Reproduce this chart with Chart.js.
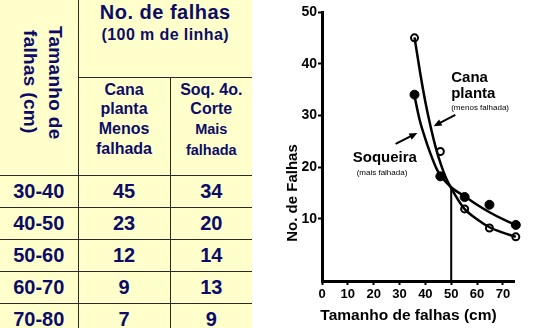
<!DOCTYPE html>
<html>
<head>
<meta charset="utf-8">
<script src="https://cdn.jsdelivr.net/npm/chart.js@4/dist/chart.umd.min.js"></script>
<style>
  body { margin: 0; width: 553px; height: 328px; overflow: hidden; background: #fff; font-family: "Liberation Sans", Arial, sans-serif; }
  #tabela { position: absolute; left: 0; top: 0; width: 252px; border-collapse: collapse; table-layout: fixed; background: #ffffcc; color: #0c0c68; font-weight: bold; }
  #tabela td { border: 1px solid #2a2a2a; padding: 0; text-align: center; }
  #tabela tr:first-child td { border-top: none; }
  #tabela td:first-child { border-left: none; }
  #tabela td:last-child { border-right: none; }
  .rot div { writing-mode: vertical-rl; display: inline-block; font-size: 19px; line-height: 25px; text-align: center; margin-left: 8px; margin-bottom: 6px; letter-spacing: 0.3px; }
  .titulo { vertical-align: top; }
  .titulo .t1 { font-size: 20px; line-height: 23px; margin-top: 1px; letter-spacing: 0.5px; }
  .titulo .t2 { font-size: 16px; line-height: 22px; letter-spacing: 0.4px; }
  .sub { vertical-align: top; font-size: 16px; line-height: 19.7px; padding-top: 2px !important; }
  .sub .menor { font-size: 14.5px; }
  .dado td { font-size: 20px; height: 31px; }
  #grafico { position: absolute; left: 252px; top: 0; }
</style>
</head>
<body>
<table id="tabela">
  <colgroup><col style="width:78px"><col style="width:92px"><col style="width:82px"></colgroup>
  <tr style="height:77px">
    <td rowspan="2" class="rot"><div>Tamanho de<br>falhas (cm)</div></td>
    <td colspan="2" class="titulo"><div class="t1">No. de falhas</div><div class="t2">(100 m de linha)</div></td>
  </tr>
  <tr style="height:98px">
    <td class="sub">Cana<br>planta<br>Menos<br>falhada</td>
    <td class="sub">Soq. 4o.<br>Corte<br><span class="menor">Mais<br>falhada</span></td>
  </tr>
</table>
<canvas id="grafico" width="301" height="328"></canvas>
<script>
// Tabela
const faixas = ['30-40', '40-50', '50-60', '60-70', '70-80']
const tabCana = [45, 23, 12, 9, 7]
const tabSoqueira = [34, 20, 14, 13, 9]

// Grafico: pontos observados
const xPontos = [35.8, 45.8, 55.2, 64.8, 75]
const canaPontos = [45, 23, 11.9, 8.2, 6.5]
const soqPontos = [34, 18.2, 14.2, 12.7, 8.8]

// curvas ajustadas
const curvaCanaX = [35.8, 38, 40, 42, 44, 46, 48, 50, 54.8, 60, 65, 70, 75]
const curvaCanaY = [45.1, 38.2, 32.6, 27.9, 23.8, 20.5, 17.9, 15.9, 12.1, 9.9, 8.3, 7.3, 6.5]
const curvaSoqX = [35.7, 37.8, 39.7, 41.9, 44.5, 46.2, 50, 55.6, 60, 65, 70, 75]
const curvaSoqY = [34, 29.1, 25.9, 22.7, 19.5, 18.1, 16.1, 14.2, 12.7, 11.2, 9.9, 8.8]

const ticksX = [0, 10, 20, 30, 40, 50, 60, 70]
const ticksY = [10, 20, 30, 40, 50]

const tabela = document.getElementById('tabela')
faixas.forEach((faixa, i) => {
    const tr = document.createElement('tr')
    tr.classList.add('dado')
    ;[faixa, tabCana[i], tabSoqueira[i]].forEach(v => {
        const td = document.createElement('td')
        td.textContent = v
        tr.appendChild(td)
    })
    tabela.appendChild(tr)
})

const fonte = '"Liberation Sans", Arial, sans-serif'
const pares = (xs, ys) => xs.map((x, i) => ({x: x, y: ys[i]}))

function seta(ctx, x0, y0, x1, y1) {
    const ang = Math.atan2(y1 - y0, x1 - x0)
    ctx.lineWidth = 2
    ctx.beginPath()
    ctx.moveTo(x0, y0)
    ctx.lineTo(x1 - 5 * Math.cos(ang), y1 - 5 * Math.sin(ang))
    ctx.stroke()
    ctx.beginPath()
    ctx.moveTo(x1, y1)
    ctx.lineTo(x1 - 8 * Math.cos(ang) + 3.5 * Math.sin(ang), y1 - 8 * Math.sin(ang) - 3.5 * Math.cos(ang))
    ctx.lineTo(x1 - 8 * Math.cos(ang) - 3.5 * Math.sin(ang), y1 - 8 * Math.sin(ang) + 3.5 * Math.cos(ang))
    ctx.closePath()
    ctx.fill()
}

const anotacoes = {
    id: 'anotacoes',
    afterDraw(chart) {
        const {ctx, scales: {x, y}} = chart
        const px = v => x.getPixelForValue(v)
        const py = v => y.getPixelForValue(v)
        ctx.save()
        ctx.fillStyle = '#000'
        ctx.strokeStyle = '#000'

        // titulos dos eixos
        ctx.font = 'bold 15.5px ' + fonte
        ctx.textAlign = 'center'
        ctx.textBaseline = 'middle'
        ctx.fillText('Tamanho de falhas (cm)', 156.5, 316)
        ctx.save()
        ctx.translate(41, 193)
        ctx.rotate(-Math.PI / 2)
        ctx.font = 'bold 15px ' + fonte
        ctx.fillText('No. de Falhas', 0, 0)
        ctx.restore()

        // legendas das curvas
        ctx.textAlign = 'left'
        ctx.textBaseline = 'alphabetic'
        ctx.font = 'bold 15px ' + fonte
        ctx.fillText('Cana', px(50), py(36.5))
        ctx.fillText('planta', px(50), py(33.4))
        ctx.fillText('Soqueira', px(11.9), py(20.9))
        ctx.font = '8px ' + fonte
        ctx.fillText('(menos falhada)', px(50), py(31.1))
        ctx.fillText('(mais falhada)', px(13.4), py(18.5))

        seta(ctx, px(51.6), py(30.1), px(43.2), py(27.9))
        seta(ctx, px(28.5), py(24.5), px(36.9), py(26.6))
        ctx.restore()
    }
}

const ctx = document.getElementById('grafico')
const chart = new Chart(ctx, {
    type: 'scatter',
    data: {
        datasets: [
            {
                data: pares(curvaCanaX, curvaCanaY),
                showLine: true, borderColor: '#000', borderWidth: 2.5,
                cubicInterpolationMode: 'monotone', pointRadius: 0, clip: false
            },
            {
                data: pares(curvaSoqX, curvaSoqY),
                showLine: true, borderColor: '#000', borderWidth: 2.5,
                cubicInterpolationMode: 'monotone', pointRadius: 0, clip: false
            },
            {
                data: [{x: 50, y: -2.05}, {x: 50, y: 16}],
                showLine: true, borderColor: '#000', borderWidth: 2, pointRadius: 0
            },
            {
                data: pares(xPontos, canaPontos),
                pointRadius: 3.5, pointBorderWidth: 2,
                pointBackgroundColor: '#fff', pointBorderColor: '#000', clip: false
            },
            {
                data: pares(xPontos, soqPontos),
                pointRadius: 4.5, pointBorderWidth: 1,
                pointBackgroundColor: '#000', pointBorderColor: '#000', clip: false
            }
        ]
    },
    options: {
        responsive: false,
        animation: false,
        devicePixelRatio: 1,
        layout: { padding: { top: 12, right: 39, left: 0, bottom: 0 } },
        plugins: { legend: { display: false }, tooltip: { enabled: false } },
        scales: {
            x: {
                type: 'linear', min: 0, max: 74.3,
                afterBuildTicks: s => { s.ticks = ticksX.map(v => ({value: v})) },
                afterFit: s => { s.height = 47 },
                grid: { drawOnChartArea: false, drawTicks: true, tickLength: 4, tickWidth: 2, tickColor: '#000' },
                border: { color: '#000', width: 3 },
                ticks: { color: '#000', padding: 2, maxRotation: 0, autoSkip: false,
                         font: { family: fonte, size: 13, weight: 'bold' } }
            },
            y: {
                type: 'linear', min: -2.05, max: 50,
                afterBuildTicks: s => { s.ticks = ticksY.map(v => ({value: v})) },
                afterFit: s => { s.width = 70 },
                grid: { drawOnChartArea: false, drawTicks: true, tickLength: 4, tickWidth: 2, tickColor: '#000' },
                border: { color: '#000', width: 3 },
                ticks: { color: '#000', padding: 1, autoSkip: false,
                         font: { family: fonte, size: 14, weight: 'bold' } }
            }
        }
    },
    plugins: [anotacoes]
})
</script>
</body>
</html>
